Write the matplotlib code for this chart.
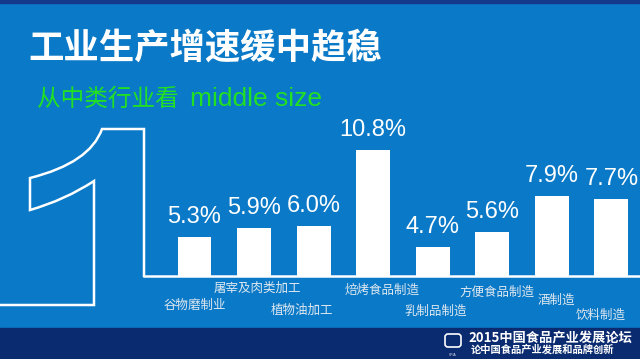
import numpy as np
import matplotlib
matplotlib.use('Agg')
import matplotlib.pyplot as plt
from matplotlib.path import Path
from matplotlib.patches import PathPatch, Rectangle, FancyBboxPatch
from matplotlib.transforms import Affine2D

plt.rcParams['font.family'] = ['Noto Sans CJK SC', 'DejaVu Sans']

# 数据
categories = ['谷物磨制业', '屠宰及肉类加工', '植物油加工', '焙烤食品制造',
              '乳制品制造', '方便食品制造', '酒制造', '饮料制造']
growth = [5.3, 5.9, 6.0, 10.8, 4.7, 5.6, 7.9, 7.7]

# 类别标签错位摆放（像素偏移）
label_dx = [0, 3.5, -11.5, 8.5, 3, 4.5, 4, -10.5]
label_drop = [29, 12, 34, 14, 35, 16, 24, 39]

W, H = 640, 359
fig = plt.figure(figsize=(6.4, 3.59), dpi=100)
fig.patch.set_facecolor('#0a79c7')

# 像素坐标 -> 画布
px = Affine2D().scale(1 / W, -1 / H).translate(0, 1) + fig.transFigure

# 顶部细条和底部深色条
fig.add_artist(Rectangle((0, 0), W, 3, color='#15398a', transform=px))
fig.add_artist(Rectangle((0, 328), W, 31, color='#0b2b70', transform=px))

# 大号 “1” 的轮廓
verts = [(0, 305), (94, 305), (94, 181), (65, 200), (30, 210), (30, 178),
         (90, 163), (102, 129), (144, 129), (144, 277)]
codes = [Path.MOVETO, Path.LINETO, Path.LINETO, Path.CURVE3, Path.CURVE3,
         Path.LINETO, Path.CURVE3, Path.CURVE3, Path.LINETO, Path.LINETO]
fig.add_artist(PathPatch(Path(verts, codes), fill=False, ec='white', lw=1.8,
                         transform=px, joinstyle='miter'))

# 标题
fig.text(28, 49, '工业生产增速缓中趋稳', transform=px, fontsize=25.5,
         fontweight='bold', color='white', ha='left', va='center')
fig.text(37, 106, '从中类行业看', transform=px, fontsize=17,
         color='#22e022', ha='left', va='baseline')
fig.text(190, 106, 'middle size', transform=px, fontsize=19,
         color='#22e022', ha='left', va='baseline', family='Liberation Sans')

# 柱状图
ax = fig.add_axes([144 / W, 1 - 276 / H, (W - 144) / W, 176 / H])
ax.patch.set_alpha(0)
x = np.arange(len(categories))
ax.bar(x, growth, width=0.57, color='white', zorder=2)
ax.set_xlim(-0.848, 7.479)
ax.set_ylim(2.85, 13.94)
for s in ['top', 'right', 'left']:
    ax.spines[s].set_visible(False)
ax.spines['bottom'].set_color('white')
ax.spines['bottom'].set_linewidth(1.8)
ax.set_xticks([])
ax.set_yticks([])

for i, v in enumerate(growth):
    ax.annotate(f'{v}%', (i, v), xytext=(0, 10), textcoords='offset points',
                ha='center', va='baseline', fontsize=17, color='white',
                family='Liberation Sans')

for i, c in enumerate(categories):
    ax.annotate(c, xy=(i, 0), xycoords=('data', 'axes fraction'),
                xytext=(label_dx[i] * 0.72, -label_drop[i] * 0.72),
                textcoords='offset points', ha='center', va='center',
                fontsize=9, color='#dfe8f0', annotation_clip=False)

# 底部论坛标识
fig.add_artist(FancyBboxPatch((445, 334), 16, 13,
                              boxstyle='round,pad=0,rounding_size=3',
                              fill=False, ec='white', lw=1.2, transform=px))
fig.text(453, 355, 'CPIA', transform=px, fontsize=2.5, color='white',
         ha='center', va='center')
fig.text(468, 338, '2015中国食品产业发展论坛', transform=px, fontsize=9.5,
         fontweight='bold', color='white', ha='left', va='center')
fig.text(471, 350, '论中国食品产业发展和品牌创新', transform=px, fontsize=7.4,
         fontweight='bold', color='white', ha='left', va='center')

fig.savefig('out.png', dpi=100, facecolor=fig.get_facecolor())
